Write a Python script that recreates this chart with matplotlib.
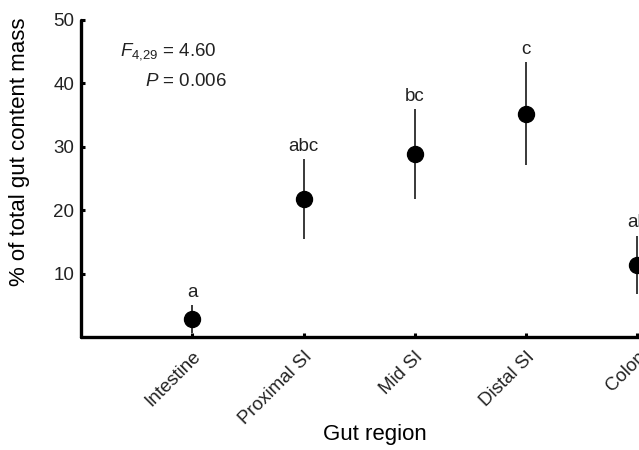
import matplotlib
matplotlib.use("Agg")
import matplotlib.pyplot as plt
import numpy as np

plt.rcParams['font.family'] = ['Liberation Sans', 'DejaVu Sans']
plt.rcParams['mathtext.fontset'] = 'custom'
plt.rcParams['mathtext.rm'] = 'Liberation Sans'
plt.rcParams['mathtext.it'] = 'Liberation Sans:italic'

regions = ['Intestine', 'Proximal SI', 'Mid SI', 'Distal SI', 'Colon']
means = [2.8, 21.8, 28.9, 35.2, 11.4]
errs = [2.2, 6.3, 7.1, 8.1, 4.6]
letters = ['a', 'abc', 'bc', 'c', 'ab']

fig = plt.figure(figsize=(6.39, 4.5), dpi=100)
ax = fig.add_axes([0.127, 0.251, 0.873, 0.7046])

xs = np.arange(1, len(regions) + 1)
ax.errorbar(xs, means, yerr=errs, fmt='o', color='black', ms=11.5,
            ecolor='#2a2a2a', elinewidth=1.3, capsize=0, zorder=3, clip_on=False)

for x, m, e, lab in zip(xs, means, errs, letters):
    ax.annotate(lab, (x, m + e), xytext=(0, 3), textcoords='offset points',
                ha='center', va='bottom', fontsize=13.5, color='#222222',
                annotation_clip=False)

ax.text(0.07, 0.9, r'$F_{\mathit{4{,}29}}$ = 4.60', transform=ax.transAxes,
        fontsize=13.5, ha='left', va='center', color='#222222')
ax.text(0.115, 0.805, r'$P$ = 0.006', transform=ax.transAxes, fontsize=13.5,
        ha='left', va='center', color='#222222')

ax.set_xlim(0, 5.016)
ax.set_ylim(0, 50)
ax.set_yticks([10, 20, 30, 40, 50])
ax.set_xticks(xs)
ax.set_xticklabels(regions, rotation=45, ha='right', va='top', rotation_mode='anchor')

for s in ['top', 'right']:
    ax.spines[s].set_visible(False)
for s in ['left', 'bottom']:
    ax.spines[s].set_linewidth(2.4)
    ax.spines[s].set_capstyle('round')

ax.tick_params(direction='in', length=3, width=2.2, labelsize=13.5, pad=5,
               labelcolor='#222222')
ax.tick_params(axis='x', pad=8)

ax.set_ylabel('% of total gut content mass', fontsize=16)
ax.yaxis.set_label_coords(-0.091, 0.584)
ax.set_xlabel('Gut region', fontsize=16)
ax.xaxis.set_label_coords(0.527, -0.275)

fig.savefig('out.png', dpi=100)
